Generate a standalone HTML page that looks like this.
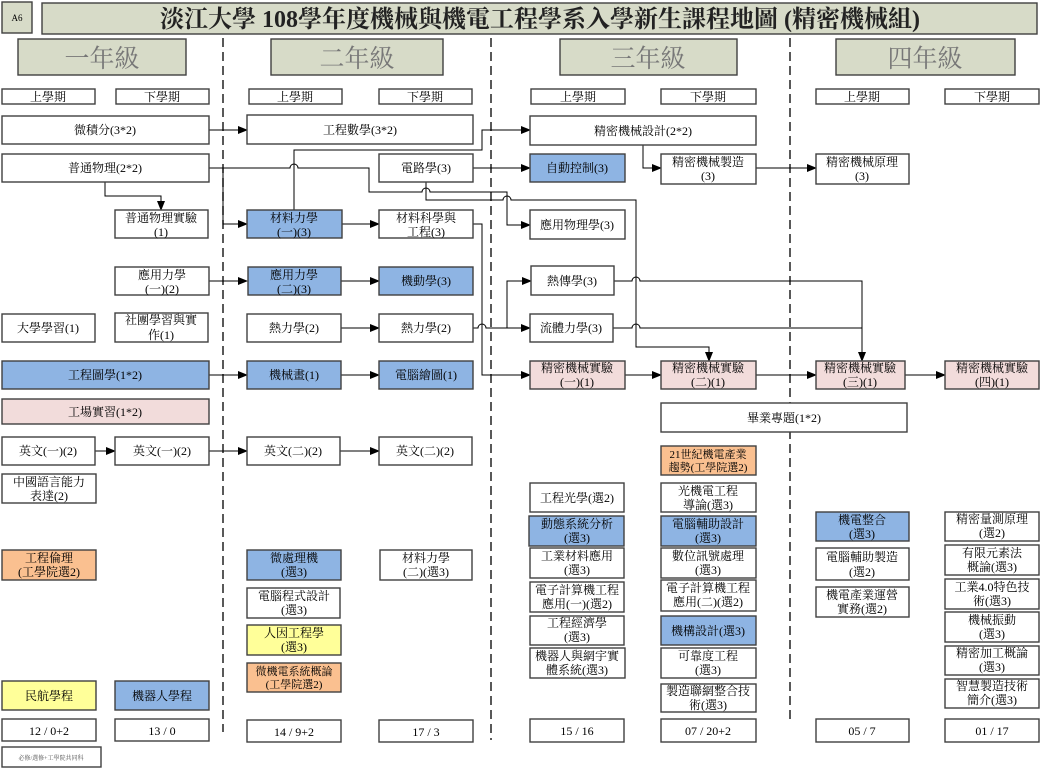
<!DOCTYPE html>
<html><head><meta charset="utf-8"><style>
html,body{margin:0;padding:0;background:#fff}
svg{display:block}
text{font-family:"Liberation Serif","Noto Serif CJK SC","Noto Sans CJK TC",serif;font-size:12px;fill:#000;text-anchor:middle}
.b{stroke:#404040;stroke-width:1.4}
.w{fill:#fff}.bl{fill:#8eb4e3}.pk{fill:#f2dcdb}.or{fill:#fac090}.yl{fill:#ffff99}.hd{fill:#d7dbc8}
.l{fill:none;stroke:#000;stroke-width:1}
.d{stroke:#222;stroke-width:1.5;stroke-dasharray:9,5}
</style></head><body>
<svg width="1041" height="768" viewBox="0 0 1041 768" xmlns="http://www.w3.org/2000/svg">
<defs><marker id="a" markerWidth="10" markerHeight="8" refX="9" refY="4" orient="auto" markerUnits="userSpaceOnUse"><path d="M0,0 L10,4 L0,8z" fill="#000"/></marker></defs>

<line class="d" x1="223" y1="38" x2="223" y2="732"/>
<line class="d" x1="491" y1="38" x2="491" y2="740"/>
<line class="d" x1="790" y1="38" x2="790" y2="722"/>

<rect class="b hd" x="2" y="2" width="30" height="31"/><text x="17" y="21" style="font-size:9px">A6</text>
<rect class="b hd" x="42" y="3" width="995" height="31"/>
<text x="540" y="27" style="font-size:24px;font-weight:bold;fill:#222">淡江大學 108學年度機械與機電工程學系入學新生課程地圖 (精密機械組)</text>

<rect class="b hd" x="18" y="39" width="168" height="36"/><text x="102" y="67" style="font-size:25px;fill:#777">一年級</text>
<rect class="b hd" x="271" y="39" width="172" height="36"/><text x="357" y="67" style="font-size:25px;fill:#777">二年級</text>
<rect class="b hd" x="560" y="39" width="177" height="36"/><text x="648" y="67" style="font-size:25px;fill:#777">三年級</text>
<rect class="b hd" x="836" y="39" width="179" height="36"/><text x="925" y="67" style="font-size:25px;fill:#777">四年級</text>

<g>
<rect class="b w" x="2" y="89" width="93" height="15"/><text x="48" y="101">上學期</text>
<rect class="b w" x="116" y="89" width="93" height="15"/><text x="162" y="101">下學期</text>
<rect class="b w" x="249" y="89" width="93" height="15"/><text x="295" y="101">上學期</text>
<rect class="b w" x="379" y="89" width="93" height="15"/><text x="425" y="101">下學期</text>
<rect class="b w" x="531" y="89" width="94" height="15"/><text x="578" y="101">上學期</text>
<rect class="b w" x="661" y="89" width="95" height="15"/><text x="708" y="101">下學期</text>
<rect class="b w" x="816" y="89" width="93" height="15"/><text x="862" y="101">上學期</text>
<rect class="b w" x="945" y="89" width="94" height="15"/><text x="992" y="101">下學期</text>
</g>

<polyline class="l" points="209,130 247,130" marker-end="url(#a)"/>
<polyline class="l" points="209,168 223,168 223,224 247,224" marker-end="url(#a)"/>
<path class="l" d="M223,168 H290 a4,4 0 0 1 8,0 H369 V192 H422 a4,4 0 0 1 8,0 H507 V225 H530" marker-end="url(#a)"/>
<polyline class="l" points="105,182 105,196 161,196 161,210" marker-end="url(#a)"/>
<polyline class="l" points="294,210 294,150 482,150 482,130 530,130" marker-end="url(#a)"/>
<polyline class="l" points="473,168 530,168" marker-end="url(#a)"/>
<path class="l" d="M426,182 V200 H503 a4,4 0 0 1 8,0 H636 V347 H709 V361" marker-end="url(#a)"/>
<polyline class="l" points="342,224 379,224" marker-end="url(#a)"/>
<polyline class="l" points="473,224 482,224 482,375 530,375" marker-end="url(#a)"/>
<polyline class="l" points="209,281 247,281" marker-end="url(#a)"/>
<polyline class="l" points="341,281 379,281" marker-end="url(#a)"/>
<polyline class="l" points="341,328 379,328" marker-end="url(#a)"/>
<path class="l" d="M473,328 H478 a4,4 0 0 1 8,0 H530" marker-end="url(#a)"/>
<polyline class="l" points="507,328 507,281 531,281" marker-end="url(#a)"/>
<polyline class="l" points="209,375 247,375" marker-end="url(#a)"/>
<polyline class="l" points="341,375 379,375" marker-end="url(#a)"/>
<polyline class="l" points="625,375 661,375" marker-end="url(#a)"/>
<polyline class="l" points="756,375 816,375" marker-end="url(#a)"/>
<polyline class="l" points="905,375 945,375" marker-end="url(#a)"/>
<path class="l" d="M614,281 H632 a4,4 0 0 1 8,0 H862 V361" marker-end="url(#a)"/>
<path class="l" d="M613,328 H632 a4,4 0 0 1 8,0 H862"/>
<polyline class="l" points="643,145 643,168 661,168" marker-end="url(#a)"/>
<polyline class="l" points="756,168 816,168" marker-end="url(#a)"/>
<polyline class="l" points="95,451 115,451" marker-end="url(#a)"/>
<polyline class="l" points="209,451 247,451" marker-end="url(#a)"/>
<polyline class="l" points="340,451 379,451" marker-end="url(#a)"/>

<rect class="b w" x="2" y="116" width="207" height="28"/><text x="105" y="134">微積分(3*2)</text>
<rect class="b w" x="247" y="115" width="226" height="29"/><text x="360" y="134">工程數學(3*2)</text>
<rect class="b w" x="530" y="116" width="226" height="29"/><text x="643" y="135">精密機械設計(2*2)</text>
<rect class="b w" x="2" y="154" width="207" height="28"/><text x="105" y="172">普通物理(2*2)</text>
<rect class="b w" x="379" y="154" width="94" height="28"/><text x="426" y="172">電路學(3)</text>
<rect class="b bl" x="530" y="154" width="95" height="28"/><text x="577" y="172">自動控制(3)</text>
<rect class="b w" x="661" y="154" width="95" height="30"/><text x="708" y="166">精密機械製造</text><text x="708" y="180">(3)</text>
<rect class="b w" x="816" y="154" width="93" height="30"/><text x="862" y="166">精密機械原理</text><text x="862" y="180">(3)</text>
<rect class="b w" x="115" y="210" width="93" height="28"/><text x="161" y="222">普通物理實驗</text><text x="161" y="236">(1)</text>
<rect class="b bl" x="247" y="210" width="95" height="28"/><text x="294" y="222">材料力學</text><text x="294" y="236">(一)(3)</text>
<rect class="b w" x="379" y="210" width="94" height="28"/><text x="426" y="222">材料科學與</text><text x="426" y="236">工程(3)</text>
<rect class="b w" x="530" y="210" width="95" height="29"/><text x="577" y="229">應用物理學(3)</text>
<rect class="b w" x="115" y="267" width="94" height="28"/><text x="162" y="279">應用力學</text><text x="162" y="293">(一)(2)</text>
<rect class="b bl" x="248" y="267" width="93" height="28"/><text x="294" y="279">應用力學</text><text x="294" y="293">(二)(3)</text>
<rect class="b bl" x="379" y="267" width="94" height="28"/><text x="426" y="285">機動學(3)</text>
<rect class="b w" x="531" y="266" width="83" height="29"/><text x="572" y="285">熱傳學(3)</text>
<rect class="b w" x="2" y="314" width="93" height="28"/><text x="48" y="332">大學學習(1)</text>
<rect class="b w" x="115" y="313" width="93" height="29"/><text x="161" y="324">社團學習與實</text><text x="161" y="339">作(1)</text>
<rect class="b w" x="247" y="314" width="94" height="28"/><text x="294" y="332">熱力學(2)</text>
<rect class="b w" x="379" y="314" width="94" height="28"/><text x="426" y="332">熱力學(2)</text>
<rect class="b w" x="530" y="314" width="83" height="28"/><text x="571" y="332">流體力學(3)</text>
<rect class="b bl" x="2" y="361" width="207" height="28"/><text x="105" y="379">工程圖學(1*2)</text>
<rect class="b bl" x="247" y="361" width="94" height="28"/><text x="294" y="379">機械畫(1)</text>
<rect class="b bl" x="379" y="361" width="94" height="28"/><text x="426" y="379">電腦繪圖(1)</text>
<rect class="b pk" x="530" y="361" width="95" height="28"/><text x="577" y="372">精密機械實驗</text><text x="577" y="386">(一)(1)</text>
<rect class="b pk" x="661" y="361" width="95" height="28"/><text x="708" y="372">精密機械實驗</text><text x="708" y="386">(二)(1)</text>
<rect class="b pk" x="816" y="361" width="89" height="28"/><text x="860" y="372">精密機械實驗</text><text x="860" y="386">(三)(1)</text>
<rect class="b pk" x="945" y="361" width="94" height="28"/><text x="992" y="372">精密機械實驗</text><text x="992" y="386">(四)(1)</text>
<rect class="b pk" x="2" y="399" width="207" height="25"/><text x="105" y="416">工場實習(1*2)</text>
<rect class="b w" x="661" y="403" width="246" height="29"/><text x="784" y="422">畢業專題(1*2)</text>
<rect class="b w" x="2" y="437" width="93" height="28"/><text x="48" y="455">英文(一)(2)</text>
<rect class="b w" x="115" y="437" width="94" height="28"/><text x="162" y="455">英文(一)(2)</text>
<rect class="b w" x="247" y="437" width="93" height="28"/><text x="293" y="455">英文(二)(2)</text>
<rect class="b w" x="379" y="437" width="93" height="28"/><text x="425" y="455">英文(二)(2)</text>
<rect class="b w" x="2" y="474" width="94" height="29"/><text x="49" y="486">中國語言能力</text><text x="49" y="500">表達(2)</text>
<rect class="b or" x="2" y="550" width="94" height="30"/><text x="49" y="562">工程倫理</text><text x="49" y="576">(工學院選2)</text>
<rect class="b bl" x="247" y="550" width="94" height="30"/><text x="294" y="562">微處理機</text><text x="294" y="576">(選3)</text>
<rect class="b w" x="380" y="550" width="92" height="30"/><text x="426" y="562">材料力學</text><text x="426" y="576">(二)(選3)</text>
<rect class="b w" x="247" y="588" width="93" height="30"/><text x="294" y="600">電腦程式設計</text><text x="294" y="614">(選3)</text>
<rect class="b yl" x="247" y="625" width="94" height="30"/><text x="294" y="637">人因工程學</text><text x="294" y="651">(選3)</text>
<rect class="b or" x="247" y="663" width="94" height="29"/><text x="294" y="675" style="font-size:11px">微機電系統概論</text><text x="294" y="688" style="font-size:11px">(工學院選2)</text>
<rect class="b yl" x="2" y="681" width="94" height="29"/><text x="49" y="700">民航學程</text>
<rect class="b bl" x="115" y="681" width="94" height="29"/><text x="162" y="700">機器人學程</text>
<rect class="b w" x="530" y="483" width="94" height="29"/><text x="577" y="502">工程光學(選2)</text>
<rect class="b bl" x="529" y="516" width="95" height="30"/><text x="577" y="528">動態系統分析</text><text x="577" y="542">(選3)</text>
<rect class="b w" x="530" y="548" width="94" height="30"/><text x="577" y="560">工業材料應用</text><text x="577" y="574">(選3)</text>
<rect class="b w" x="530" y="582" width="94" height="30"/><text x="577" y="594">電子計算機工程</text><text x="577" y="608">應用(一)(選2)</text>
<rect class="b w" x="530" y="616" width="94" height="29"/><text x="577" y="627">工程經濟學</text><text x="577" y="641">(選3)</text>
<rect class="b w" x="530" y="648" width="95" height="30"/><text x="577" y="660">機器人與網宇實</text><text x="577" y="674">體系統(選3)</text>
<rect class="b or" x="661" y="446" width="95" height="29"/><text x="708" y="458" style="font-size:11px">21世紀機電產業</text><text x="708" y="471" style="font-size:11px">趨勢(工學院選2)</text>
<rect class="b w" x="661" y="483" width="95" height="29"/><text x="708" y="495">光機電工程</text><text x="708" y="509">導論(選3)</text>
<rect class="b bl" x="661" y="516" width="95" height="30"/><text x="708" y="528">電腦輔助設計</text><text x="708" y="542">(選3)</text>
<rect class="b w" x="661" y="548" width="95" height="30"/><text x="708" y="560">數位訊號處理</text><text x="708" y="574">(選3)</text>
<rect class="b w" x="661" y="580" width="95" height="31"/><text x="708" y="592">電子計算機工程</text><text x="708" y="606">應用(二)(選2)</text>
<rect class="b bl" x="661" y="616" width="95" height="29"/><text x="708" y="635">機構設計(選3)</text>
<rect class="b w" x="661" y="648" width="95" height="30"/><text x="708" y="660">可靠度工程</text><text x="708" y="674">(選3)</text>
<rect class="b w" x="661" y="684" width="95" height="28"/><text x="708" y="695">製造聯網整合技</text><text x="708" y="709">術(選3)</text>
<rect class="b bl" x="816" y="512" width="93" height="29"/><text x="862" y="524">機電整合</text><text x="862" y="538">(選3)</text>
<rect class="b w" x="816" y="548" width="93" height="32"/><text x="862" y="561">電腦輔助製造</text><text x="862" y="576">(選2)</text>
<rect class="b w" x="816" y="587" width="93" height="30"/><text x="862" y="599">機電產業運營</text><text x="862" y="613">實務(選2)</text>
<rect class="b w" x="945" y="512" width="94" height="29"/><text x="992" y="523">精密量測原理</text><text x="992" y="537">(選2)</text>
<rect class="b w" x="945" y="545" width="94" height="30"/><text x="992" y="557">有限元素法</text><text x="992" y="571">概論(選3)</text>
<rect class="b w" x="945" y="579" width="94" height="30"/><text x="992" y="591">工業4.0特色技</text><text x="992" y="605">術(選3)</text>
<rect class="b w" x="945" y="612" width="94" height="30"/><text x="992" y="624">機械振動</text><text x="992" y="638">(選3)</text>
<rect class="b w" x="945" y="646" width="94" height="29"/><text x="992" y="657">精密加工概論</text><text x="992" y="671">(選3)</text>
<rect class="b w" x="945" y="679" width="94" height="29"/><text x="992" y="690">智慧製造技術</text><text x="992" y="704">簡介(選3)</text>
<rect class="b w" x="2" y="719" width="94" height="22"/><text x="49" y="735">12 / 0+2</text>
<rect class="b w" x="115" y="719" width="94" height="22"/><text x="162" y="735">13 / 0</text>
<rect class="b w" x="247" y="720" width="94" height="22"/><text x="294" y="736">14 / 9+2</text>
<rect class="b w" x="379" y="720" width="94" height="22"/><text x="426" y="736">17 / 3</text>
<rect class="b w" x="530" y="719" width="94" height="23"/><text x="577" y="735">15 / 16</text>
<rect class="b w" x="661" y="719" width="95" height="23"/><text x="708" y="735">07 / 20+2</text>
<rect class="b w" x="816" y="719" width="93" height="23"/><text x="862" y="735">05 / 7</text>
<rect class="b w" x="945" y="719" width="94" height="23"/><text x="992" y="735">01 / 17</text>
<rect class="b w" x="2" y="747" width="99" height="20"/><text x="51" y="760" style="font-size:6px;fill:#555">必修/選修+工學院共同科</text>
</svg>
</body></html>
